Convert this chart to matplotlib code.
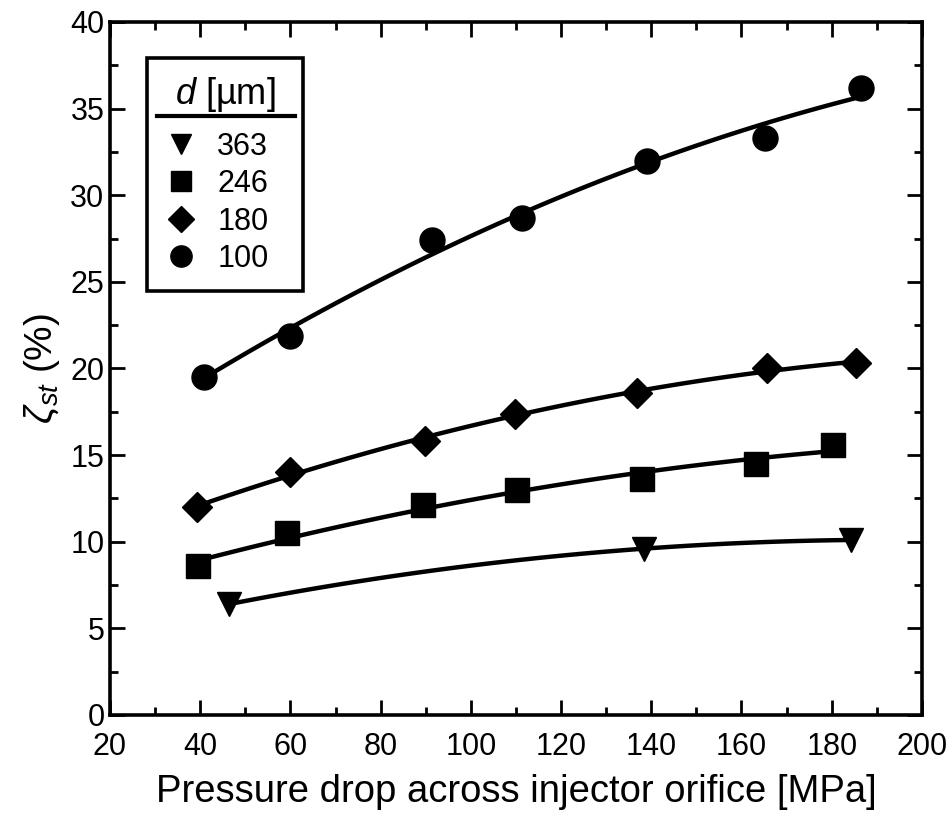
import numpy as np
import matplotlib
matplotlib.use("Agg")
import matplotlib.pyplot as plt
from matplotlib.lines import Line2D
from matplotlib.ticker import MultipleLocator

plt.rcParams["font.family"] = ["Liberation Sans", "DejaVu Sans"]
plt.rcParams["mathtext.fontset"] = "custom"
plt.rcParams["mathtext.rm"] = "Liberation Sans"
plt.rcParams["mathtext.it"] = "Liberation Sans:italic"

# values
x_363 = [46.4, 138.4, 184.2]
y_363 = [6.4, 9.6, 10.1]

x_246 = [39.6, 59.3, 89.3, 110.2, 138.0, 163.3, 180.2]
y_246 = [8.6, 10.5, 12.1, 13.0, 13.6, 14.5, 15.6]

x_180 = [39.3, 60.0, 89.8, 109.8, 136.9, 165.6, 185.3]
y_180 = [12.0, 14.0, 15.8, 17.4, 18.6, 20.0, 20.3]

x_100 = [40.9, 60.0, 91.3, 111.3, 139.1, 165.3, 186.4]
y_100 = [19.5, 21.9, 27.4, 28.7, 32.0, 33.3, 36.2]

labels = ["363", "246", "180", "100"]
markers = ["v", "s", "D", "o"]
sizes = [17, 17, 15, 18]

series = [(x_363, y_363), (x_246, y_246), (x_180, y_180), (x_100, y_100)]

fig = plt.figure(figsize=(9.53, 8.16), dpi=100)
ax = fig.add_axes([0.1154, 0.1238, 0.852, 0.8493])

for (xs, ys), m, ms in zip(series, markers, sizes):
    ax.plot(xs, ys, linestyle="none", marker=m, markersize=ms,
            color="black", zorder=3)
    # smooth fitted curve through each data set
    coef = np.polyfit(xs, ys, 2)
    xf = np.linspace(xs[0], xs[-1], 100)
    ax.plot(xf, np.polyval(coef, xf), color="black", linewidth=3.2,
            solid_capstyle="butt", zorder=2)

ax.set_xlim(20, 200)
ax.set_ylim(0, 40)
ax.xaxis.set_major_locator(MultipleLocator(20))
ax.xaxis.set_minor_locator(MultipleLocator(10))
ax.yaxis.set_major_locator(MultipleLocator(5))
ax.yaxis.set_minor_locator(MultipleLocator(2.5))
ax.tick_params(which="both", direction="in", top=True, right=True,
               labelsize=22, width=2)
ax.tick_params(which="major", length=11)
ax.tick_params(which="minor", length=6)
ax.tick_params(axis="x", pad=12)
ax.tick_params(axis="y", pad=4)
for s in ax.spines.values():
    s.set_linewidth(2.6)

ax.set_xlabel("Pressure drop across injector orifice [MPa]", fontsize=27.5,
              labelpad=9)
ax.set_ylabel(r"$\zeta_{st}$ (%)", fontsize=28, labelpad=6)

handles = [Line2D([], [], linestyle="none", marker=m, markersize=ms * 0.85,
                  color="black") for m, ms in zip(markers, sizes)]
leg = ax.legend(handles, labels, title=r"$d$ [µm]", loc="upper left",
                bbox_to_anchor=(0.0456, 0.0, 0.192, 0.948), mode="expand",
                fontsize=22, title_fontsize=26, frameon=True, fancybox=False,
                framealpha=1.0, handlelength=1.1, handletextpad=0.65,
                labelspacing=0.24, borderpad=0.55, borderaxespad=0.0)
leg.get_frame().set_edgecolor("black")
leg.get_frame().set_linewidth(2.6)
leg._legend_box.sep = 13
leg.set_zorder(5)
ax.plot([0.058, 0.228], [0.864, 0.864], transform=ax.transAxes,
        color="black", linewidth=3, zorder=10)

fig.savefig("out.png", dpi=100)
